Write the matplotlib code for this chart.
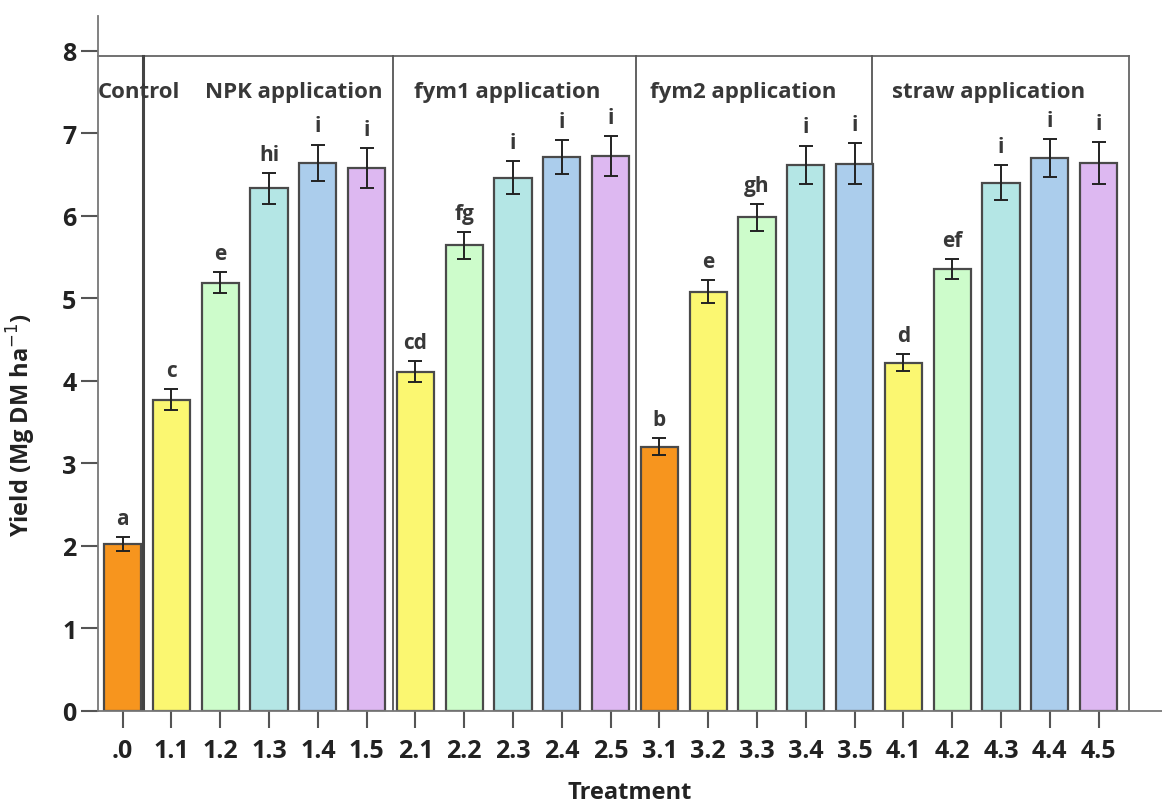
import numpy as np
import matplotlib.pyplot as plt

# --- data ---
treatments = ['.0', '1.1', '1.2', '1.3', '1.4', '1.5',
              '2.1', '2.2', '2.3', '2.4', '2.5',
              '3.1', '3.2', '3.3', '3.4', '3.5',
              '4.1', '4.2', '4.3', '4.4', '4.5']
yields = [2.02, 3.77, 5.19, 6.33, 6.64, 6.58,
          4.11, 5.64, 6.46, 6.71, 6.72,
          3.20, 5.08, 5.98, 6.62, 6.63,
          4.22, 5.35, 6.40, 6.70, 6.64]
errors = [0.08, 0.13, 0.13, 0.19, 0.22, 0.24,
          0.13, 0.16, 0.20, 0.21, 0.24,
          0.10, 0.14, 0.16, 0.23, 0.25,
          0.10, 0.12, 0.21, 0.23, 0.25]
letters = ['a', 'c', 'e', 'hi', 'i', 'i',
           'cd', 'fg', 'i', 'i', 'i',
           'b', 'e', 'gh', 'i', 'i',
           'd', 'ef', 'i', 'i', 'i']
groups = ['Control', 'NPK application', 'fym1 application',
          'fym2 application', 'straw application']

colors = ['#f7951e', '#fbf771', '#cdfccb', '#b4e6e5', '#abcdec', '#ddb8f1']
bar_colors = [colors[0]] + colors[1:] + colors[1:] + [colors[0]] + colors[1:5] + colors[1:]

plt.rcParams['font.family'] = ['Open Sans', 'DejaVu Sans']
txt = '#383838'

fig = plt.figure(figsize=(11.62, 8.03), dpi=100)
ax = fig.add_axes([0.0843, 0.1137, 0.9157, 0.8651])

x = np.arange(len(treatments))
ax.bar(x, yields, width=0.76, color=bar_colors, edgecolor='#4a4a4a', linewidth=1.6, zorder=2)
ax.errorbar(x, yields, yerr=errors, fmt='none', ecolor='#222222', elinewidth=1.4,
            capsize=5, capthick=1.4, zorder=3)

for xi, y, e, lab in zip(x, yields, errors, letters):
    ax.text(xi, y + e + 0.1, lab, ha='center', va='bottom', fontsize=15,
            fontweight='bold', color=txt)

# frame around the groups
box_top = 7.935
box_right = 20.63
dividers = [0.42, 5.55, 10.53, 15.35]
ax.plot([-0.5, box_right], [box_top, box_top], color='#666666', lw=1.3, zorder=1, clip_on=False)
ax.plot([box_right, box_right], [0, box_top], color='#666666', lw=1.3, zorder=1)
ax.plot([dividers[0]] * 2, [0, box_top], color='#444444', lw=2.2, zorder=1)
for d in dividers[1:]:
    ax.plot([d, d], [0, box_top], color='#555555', lw=1.3, zorder=1)

# group titles
title_y = 7.5
ax.text(-0.5, title_y, groups[0], ha='left', va='center', fontsize=16, fontweight='bold', color=txt)
title_x = [1.69, 5.97, 10.81, 15.76]
for tx, g in zip(title_x, groups[1:]):
    ax.text(tx, title_y, g, ha='left', va='center', fontsize=16, fontweight='bold', color=txt)

ax.set_xlim(-0.506, 21.3)
ax.set_ylim(0, 8.42)
ax.set_xticks(x)
ax.set_xticklabels(treatments)
ax.set_yticks(range(0, 9))
ax.tick_params(axis='both', direction='out', length=12, width=1.5, color='#555555',
               labelsize=18, labelcolor='#222222')
ax.tick_params(axis='x', pad=8)
for lab in ax.get_xticklabels() + ax.get_yticklabels():
    lab.set_fontweight('bold')

for s in ['top', 'right']:
    ax.spines[s].set_visible(False)
for s in ['left', 'bottom']:
    ax.spines[s].set_color('#777777')
    ax.spines[s].set_linewidth(1.3)

ax.set_xlabel('Treatment', fontsize=17, fontweight='bold', color='#222222', labelpad=12)
ax.set_ylabel('Yield (Mg DM ha$^{-1}$)', fontsize=17, fontweight='bold', color='#222222')
ax.yaxis.set_label_coords(-0.056, 0.413)

fig.savefig('out.png', dpi=100)
